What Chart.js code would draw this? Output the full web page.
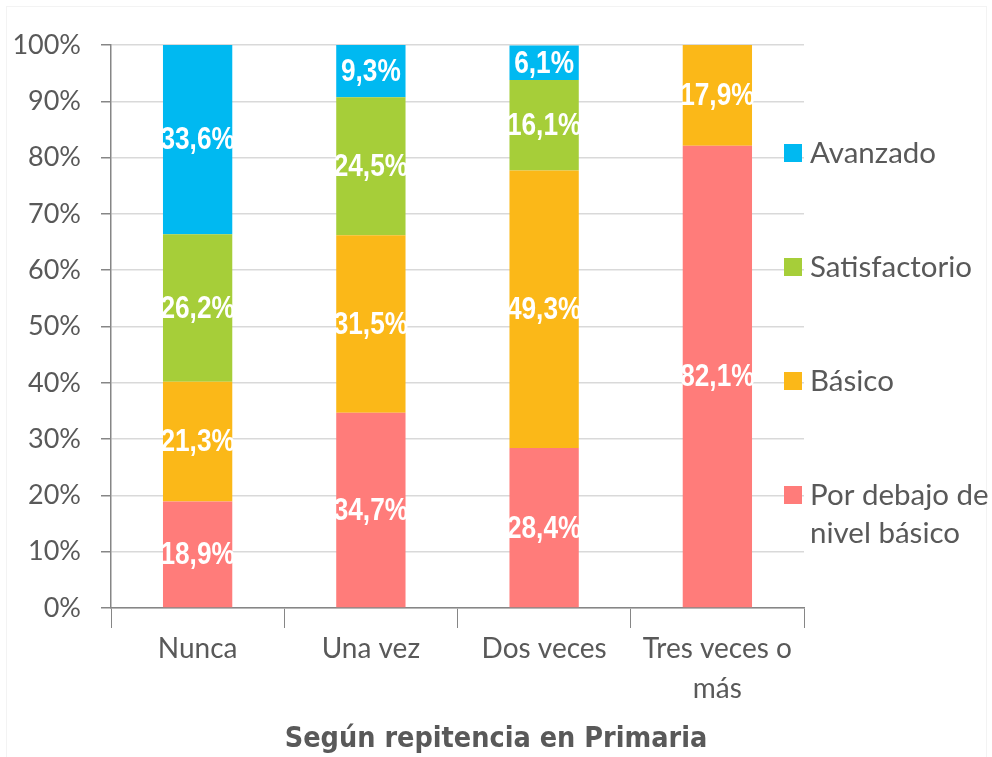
<!DOCTYPE html>
<html>
<head>
<meta charset="utf-8">
<script src="https://cdn.jsdelivr.net/npm/chart.js@4.4.1/dist/chart.umd.min.js"></script>
<style>
  html, body { margin: 0; padding: 0; background: #ffffff; }
  #wrap { width: 992px; height: 757px; position: relative; }
  #frame { position: absolute; left: 6px; top: 6px; width: 979px; height: 760px;
           border: 1px solid #F3F3F3; border-bottom: none; pointer-events: none; }
  canvas { position: absolute; left: 0; top: 0; }
</style>
</head>
<body>
<div id="wrap"><div id="frame"></div><canvas id="c" width="992" height="757"></canvas></div>
<script>
// ---- Data ----
const categories = ['Nunca', 'Una vez', 'Dos veces', ['Tres veces o', 'más']];
const seriesNames = ['Por debajo de nivel básico', 'Básico', 'Satisfactorio', 'Avanzado'];
const porDebajo = [18.9, 34.7, 28.4, 82.1];
const basico = [21.3, 31.5, 49.3, 17.9];
const satisfactorio = [26.2, 24.5, 16.1, null];
const avanzado = [33.6, 9.3, 6.1, null];
const yTicks = [0, 10, 20, 30, 40, 50, 60, 70, 80, 90, 100];
const chartTitle = 'Según repitencia en Primaria';

const colors = ['#FF7C7A', '#FBB818', '#A6CE39', '#00B9F1'];
const textColor = '#595959';

const valueLabels = {
  id: 'valueLabels',
  afterDatasetsDraw(chart) {
    const ctx = chart.ctx;
    chart.data.datasets.forEach((ds, di) => {
      const meta = chart.getDatasetMeta(di);
      meta.data.forEach((bar, i) => {
        const v = ds.data[i];
        if (v === null || v === undefined) return;
        const p = bar.getProps(['x', 'y', 'base'], true);
        const cy = (p.y + p.base) / 2;
        ctx.save();
        ctx.fillStyle = '#ffffff';
        ctx.font = "bold 32px 'Liberation Sans', Arial, sans-serif";
        ctx.textAlign = 'center';
        ctx.textBaseline = 'middle';
        ctx.translate(p.x, cy + 1);
        ctx.scale(0.82, 1);
        ctx.fillText(v.toFixed(1).replace('.', ',') + '%', 0, 0);
        ctx.restore();
      });
    });
  }
};

const sideLegend = {
  id: 'sideLegend',
  afterDraw(chart) {
    const ctx = chart.ctx;
    const area = chart.chartArea;
    ctx.save();
    ctx.font = "29.5px Lato, 'Open Sans', sans-serif";
    ctx.textBaseline = 'middle';
    ctx.textAlign = 'left';
    const x0 = area.right - 20;
    const textX = x0 + 26;
    const maxW = chart.width - textX + 20;
    const startY = area.top + 108;
    const step = 114;
    const n = chart.data.datasets.length;
    for (let k = 0; k < n; k++) {
      const di = n - 1 - k;
      const ds = chart.data.datasets[di];
      const y = startY + k * step;
      ctx.fillStyle = ds.backgroundColor;
      ctx.fillRect(x0, y - 9, 18, 18);
      const words = ds.label.split(' ');
      const lines = [];
      let cur = '';
      words.forEach(w => {
        const t = cur ? cur + ' ' + w : w;
        if (ctx.measureText(t).width > maxW && cur) { lines.push(cur); cur = w; }
        else cur = t;
      });
      if (cur) lines.push(cur);
      ctx.fillStyle = textColor;
      lines.forEach((ln, li) => ctx.fillText(ln, textX, y + li * 38));
    }
    ctx.restore();
  }
};

const bottomTitle = {
  id: 'bottomTitle',
  afterDraw(chart) {
    const ctx = chart.ctx;
    ctx.save();
    ctx.fillStyle = textColor;
    ctx.font = "bold 28.5px 'DejaVu Sans Condensed', 'DejaVu Sans', sans-serif";
    ctx.textAlign = 'center';
    ctx.textBaseline = 'middle';
    ctx.fillText(chartTitle, chart.width / 2, chart.height - 17);
    ctx.restore();
  }
};

const datasets = [porDebajo, basico, satisfactorio, avanzado].map((d, i) => ({
  label: seriesNames[i],
  data: d,
  backgroundColor: colors[i],
  borderWidth: 0,
  barPercentage: 0.4,
  categoryPercentage: 1.0
}));

new Chart(document.getElementById('c'), {
  type: 'bar',
  data: { labels: categories, datasets },
  plugins: [valueLabels, sideLegend, bottomTitle],
  options: {
    responsive: false,
    animation: false,
    layout: { padding: { left: 12, right: 188, top: 45, bottom: 47 } },
    plugins: {
      legend: { display: false },
      tooltip: { enabled: false },
      title: { display: false }
    },
    scales: {
      x: {
        stacked: true,
        offset: true,
        border: { color: '#868686', width: 1.5 },
        grid: { display: true, drawOnChartArea: false, drawTicks: true, tickLength: 20, tickColor: '#868686', offset: true },
        ticks: {
          color: textColor,
          padding: 1,
          maxRotation: 0,
          autoSkip: false,
          font: { family: "Lato, 'Open Sans', sans-serif", size: 28, lineHeight: 40 / 28 }
        }
      },
      y: {
        stacked: true,
        min: 0,
        max: 100,
        afterBuildTicks(axis) { axis.ticks = yTicks.map(v => ({ value: v })); },
        afterFit(axis) { axis.width = 99; },
        border: { color: '#868686', width: 1.5 },
        grid: { color: '#D9D9D9', lineWidth: 1.5, tickLength: 10, tickColor: '#868686' },
        ticks: {
          color: textColor,
          padding: 20,
          font: { family: "Lato, 'Open Sans', sans-serif", size: 27 },
          callback: v => v + '%'
        }
      }
    }
  }
});
</script>
</body>
</html>
